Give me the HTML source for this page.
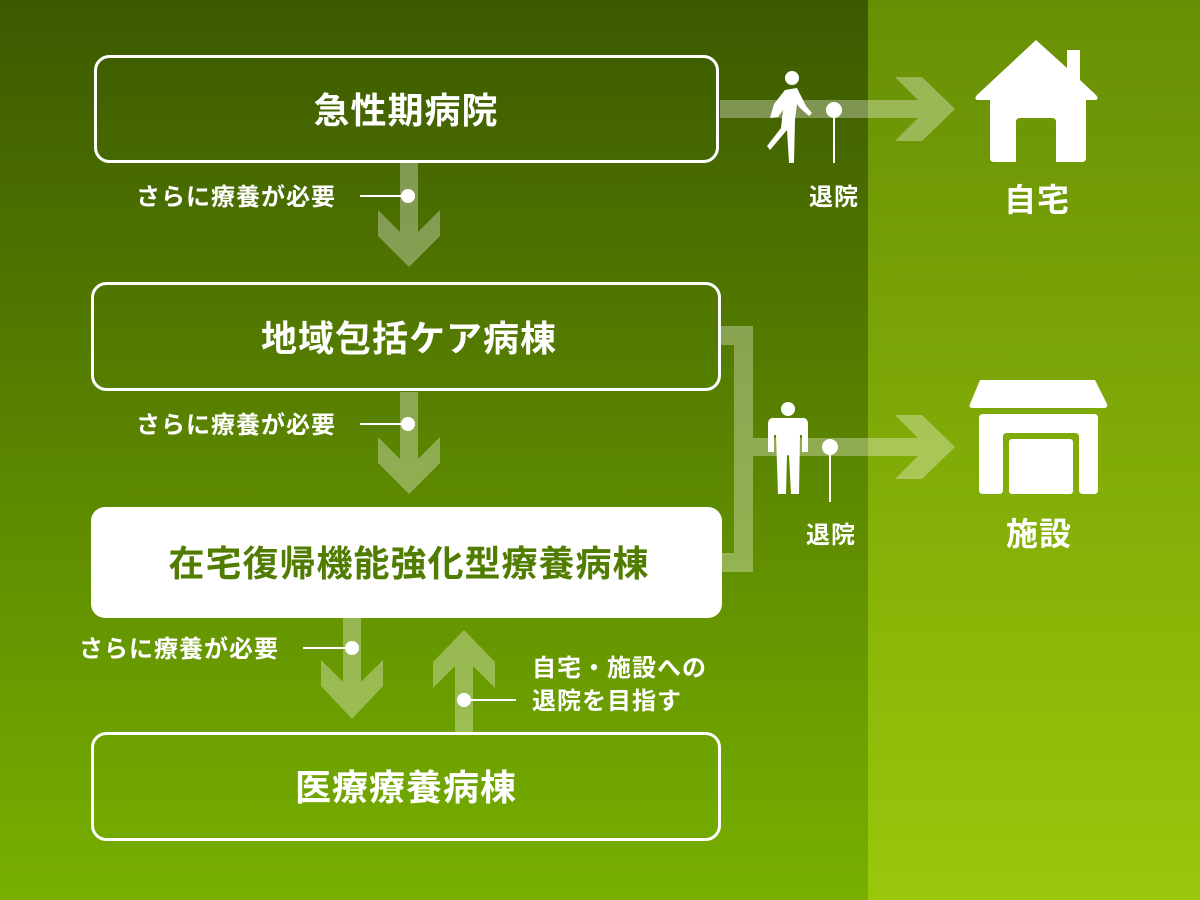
<!DOCTYPE html>
<html><head><meta charset="utf-8"><style>
html,body{margin:0;padding:0;width:1200px;height:900px;overflow:hidden}
text{font-family:"Liberation Sans","Noto Sans CJK JP",sans-serif;font-weight:bold}
</style></head><body>
<svg width="1200" height="900" viewBox="0 0 1200 900" xmlns="http://www.w3.org/2000/svg">
<defs>
<linearGradient id="gl" x1="0" y1="0" x2="0" y2="1"><stop offset="0" stop-color="#3c5900"/><stop offset="1" stop-color="#78b000"/></linearGradient>
<linearGradient id="gr" x1="0" y1="0" x2="0" y2="1"><stop offset="0" stop-color="#678f05"/><stop offset="1" stop-color="#99c70a"/></linearGradient>
</defs>
<rect x="0" y="0" width="868" height="900" fill="url(#gl)"/>
<rect x="868" y="0" width="332" height="900" fill="url(#gr)"/>
<g fill="#fff" fill-opacity="0.32">
<polygon points="720,100 918,100 895,77 922,77 955,109 922,141 895,141 918,118 720,118"/>
<rect x="720" y="326" width="33" height="19"/>
<rect x="734" y="345" width="19" height="208"/>
<rect x="720" y="553" width="33" height="19"/>
<polygon points="753,438 918,438 895,415 922,415 955,447 922,479 895,479 918,456 753,456"/>
<polygon points="400,163 418,163 418,232 440,210 440,236 409,267 378,236 378,210 400,232"/>
<polygon points="400,392 418,392 418,459 440,437 440,463 409,494 378,463 378,437 400,459"/>
<polygon points="343,618 361,618 361,682 383,660 383,686 352,719 321,686 321,660 343,682"/>
<polygon points="455,733 473,733 473,666 495,688 495,662 464,630 433,662 433,688 455,666"/>
</g>
<g fill="none" stroke="#fff" stroke-width="3">
<rect x="95.5" y="56.5" width="622" height="105" rx="14"/>
<rect x="92.5" y="283.5" width="627" height="106" rx="14"/>
<rect x="92.5" y="733.5" width="627" height="106" rx="14"/>
</g>
<rect x="91" y="507" width="631" height="111" rx="14" fill="#fff"/>
<g font-size="36" fill="#fff" text-anchor="middle" letter-spacing="1">
<text x="406" y="123">急性期病院</text>
<text x="409" y="351">地域包括ケア病棟</text>
<text x="406" y="800">医療療養病棟</text>
<text x="409" y="576" fill="#507c00">在宅復帰機能強化型療養病棟</text>
</g>
<g fill="#fff" stroke="#fff" stroke-width="2">
<line x1="360" y1="196" x2="408" y2="196"/><circle cx="408" cy="196" r="7" stroke="none"/>
<line x1="360" y1="424" x2="408" y2="424"/><circle cx="408" cy="424" r="7" stroke="none"/>
<line x1="303" y1="648" x2="352" y2="648"/><circle cx="352" cy="648" r="7" stroke="none"/>
<line x1="464" y1="700" x2="516" y2="700"/><circle cx="464" cy="700" r="7" stroke="none"/>
<line x1="834" y1="110" x2="834" y2="163"/><circle cx="834" cy="110" r="8" stroke="none"/>
<line x1="830" y1="447" x2="830" y2="502"/><circle cx="830" cy="447" r="8" stroke="none"/>
</g>
<g font-size="24" fill="#fff" letter-spacing="1">
<text x="136" y="205">さらに療養が必要</text>
<text x="136" y="433">さらに療養が必要</text>
<text x="79" y="657">さらに療養が必要</text>
<text x="532" y="676">自宅・施設への</text>
<text x="532" y="709">退院を目指す</text>
<text x="809" y="205">退院</text>
<text x="806" y="543">退院</text>
</g>
<g font-size="32" fill="#fff" letter-spacing="1">
<text x="1004" y="211">自宅</text>
<text x="1006" y="545">施設</text>
</g>
<g fill="#fff">
<circle cx="792" cy="78" r="7"/>
<path d="M785,90 L797,88 L806,106 L812,113 L809,116 L800,108 L797,104 L795,120 L794,163 L789,163 L787,130 L770,150 L767,146 L781,128 L783,110 L778,117 L770,118 L774,104 Z"/>
<circle cx="788" cy="409" r="7"/>
<path d="M772,418 L804,418 Q808,419 808,424 L808,452 L802,452 L802,435 L800,435 L799,494 L791,494 L789,455 L787,455 L786,494 L778,494 L776,435 L774,435 L774,452 L768,452 L768,424 Q768,419 772,418 Z"/>
<path d="M1036,40 L1067,68 L1067,50 L1080,50 L1080,80 L1096,95 Q1100,100 1094,100 L1086,100 L1086,158 Q1086,162 1082,162 L1056,162 L1056,122 Q1056,118 1052,118 L1020,118 Q1016,118 1016,122 L1016,162 L994,162 Q990,162 990,158 L990,100 L979,100 Q973,100 977,95 Z"/>
<path d="M980,380 L1095,380 L1107,404 Q1108,408 1104,408 L973,408 Q968,408 970,404 Z"/>
<path d="M983,414 L1094,414 Q1098,414 1098,418 L1098,490 Q1098,494 1094,494 L1083,494 Q1079,494 1079,490 L1079,437 Q1079,433 1075,433 L1007,433 Q1003,433 1003,437 L1003,490 Q1003,494 999,494 L983,494 Q979,494 979,490 L979,418 Q979,414 983,414 Z"/>
<rect x="1009" y="439" width="64" height="55" rx="3"/>
</g>
</svg>
</body></html>
